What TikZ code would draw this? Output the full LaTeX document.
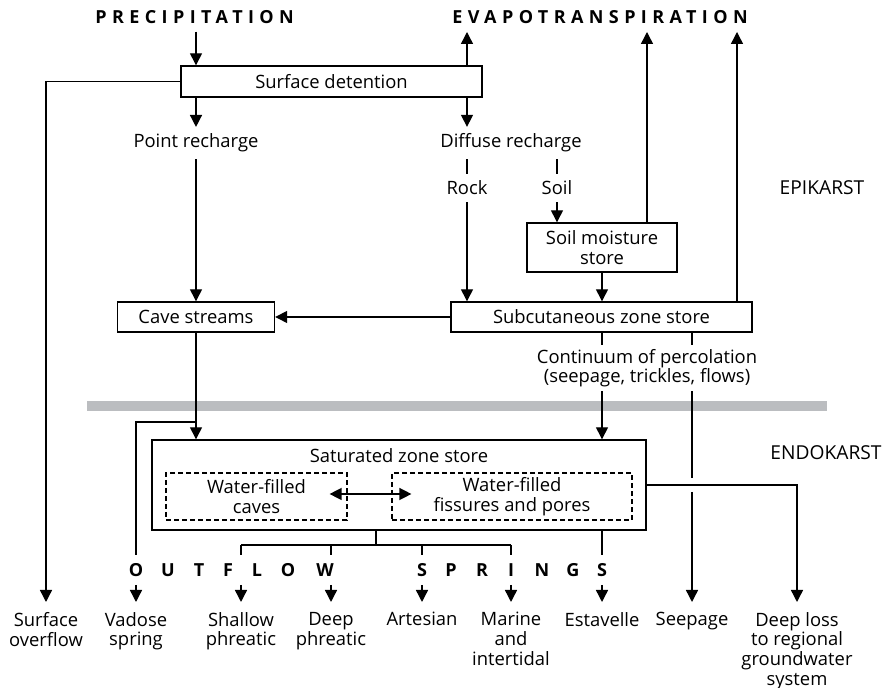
\documentclass[tikz,border=0pt]{standalone}
\usepackage{fontspec}
\setmainfont{Open Sans}
\usetikzlibrary{arrows.meta,positioning}
\definecolor{barGray}{RGB}{187,189,192}

\tikzset{
  flow/.style={-{Triangle[length=6pt,width=6pt]}, line width=0.7pt},
  link/.style={line width=0.7pt},
  store/.style={draw, line width=0.7pt, inner sep=0pt, align=center},
  subStore/.style={draw, dash pattern=on 2.5pt off 1.5pt, line width=0.6pt,
    minimum height=23.5pt, inner sep=0pt, align=center},
  heading/.style={font=\fontsize{9}{10}\selectfont\bfseries\addfontfeature{LetterSpace=30},
    inner sep=3.5pt, anchor=base west},
  outLetter/.style={font=\fontsize{9}{10}\selectfont\bfseries, inner sep=0pt, anchor=base},
  zone/.style={font=\fontsize{9.6}{11}\selectfont, anchor=base},
  outlet/.style={align=center, anchor=north, inner sep=5pt}
}

\begin{document}
\begin{tikzpicture}[x=0.5pt, y=-0.5pt, font=\fontsize{9.2}{9.8}\selectfont]
\useasboundingbox (0,0) rectangle (889,688);
\fill[barGray] (87,401) rectangle (827,411);

% headings and zones
\node[heading] (precip) at (88,24) {PRECIPITATION};
\node[heading] (evapo) at (445,24) {EVAPOTRANSPIRATION};
\node[zone] (epi) at (822,195) {EPIKARST};
\node[zone] (endo) at (826,460) {ENDOKARST};

% epikarst stores
\node[store, minimum width=150.5pt, minimum height=15.5pt] (surf) at (331.5,81.5) {Surface detention};
\node[anchor=base] (point) at (196,148) {Point recharge};
\node[anchor=base] (diffuse) at (511,148) {Diffuse recharge};
\node[anchor=base] (rock) at (467,195) {Rock};
\node[anchor=base] (soil) at (557,195) {Soil};
\node[store, minimum width=75pt, minimum height=24.5pt] (moist) at (602,247.5) {Soil moisture\\store};
\node[store, minimum width=78.5pt, minimum height=15pt] (cave) at (196,317) {Cave streams};
\node[store, minimum width=150.5pt, minimum height=15pt] (subc) at (601.5,317) {Subcutaneous zone store};
\node[align=center, inner sep=2pt] (perc) at (647,368) {Continuum of percolation\\(seepage, trickles, flows)};

% endokarst stores
\node[store, minimum width=247pt, minimum height=45pt] (sat) at (399,485) {};
\node[anchor=base] (satname) at (399,463) {Saturated zone store};
\node[subStore, minimum width=90.5pt] (caves) at (256.5,496.5) {Water-filled\\caves};
\node[subStore, minimum width=120pt] (fiss) at (512,496.5) {Water-filled\\fissures and pores};

% outflow row
\foreach \ch/\x in {O/136,U/168,T/199,F/228,L/257,O/288,W/325,S/422,P/451,R/482,I/511,N/542,G/573,S/602}
  \node[outLetter] (ch\x) at (\x,577) {\ch};
\node[outlet] (overflow) at (46,602) {Surface\\overflow};
\node[outlet] (vadose) at (136,602) {Vadose\\spring};
\node[outlet] (shallow) at (241,602) {Shallow\\phreatic};
\node[outlet] (deep) at (331,602) {Deep\\phreatic};
\node[outlet] (artesian) at (422,602) {Artesian};
\node[outlet] (marine) at (511,602) {Marine\\and\\intertidal};
\node[outlet] (estavelle) at (602,602) {Estavelle};
\node[outlet] (seepage) at (692,602) {Seepage};
\node[outlet] (deeploss) at (797,602) {Deep loss\\to regional\\groundwater\\system};

\coordinate (et0) at (467,32);
\coordinate (et1) at (647,32);
\coordinate (et2) at (737,32);
\coordinate (vj) at (196,422);
\coordinate (tj) at (376,545);
\coordinate (cross) at (692,485);
\coordinate (rowtop) at (0,555);
\coordinate (rowbot) at (0,585);

% recharge
\draw[flow] (precip.south -| point) -- (surf.north -| point);
\draw[flow] (surf.north -| et0) -- (et0);
\draw[flow] (surf.south -| point) -- (point.north);
\draw[flow] (surf.south -| rock) -- (diffuse.north -| rock);
\draw[link] (diffuse.south -| rock) -- (rock.north);
\draw[flow] (rock.south) -- (subc.north -| rock);
\draw[link] (diffuse.south -| soil) -- (soil.north);
\draw[flow] (soil.south) -- (moist.north -| soil);
\draw[flow] (moist.south) -- (subc.north -| moist);
\draw[flow] (moist.north -| et1) -- (et1);
\draw[flow] (subc.north -| et2) -- (et2);
\draw[flow] (point.south) -- (cave.north -| point);
\draw[flow] (subc.west) -- (cave.east);
\draw[flow] (surf.west) -| (overflow.north);

% percolation
\draw[link] (subc.south -| moist) -- (perc.north -| moist);
\draw[flow] (perc.south -| moist) -- (sat.north -| moist);
\draw[link] (subc.south -| seepage) -- (perc.north -| seepage);
\draw[link] (perc.south -| seepage) -- ([yshift=3.5pt]cross);
\draw[flow] ([yshift=-3.5pt]cross) -- (seepage.north);
\draw[flow] (cave.south) -- (sat.north -| cave);
\draw[{Triangle[length=6pt,width=6pt]}-{Triangle[length=6pt,width=6pt]}, link]
  ([xshift=-9pt,yshift=1.25pt]caves.east) -- ([xshift=10pt,yshift=1.25pt]fiss.west);

% outflows
\draw[link] (vj) -| (rowtop -| vadose);
\draw[flow] (rowbot -| vadose) -- (vadose.north);
\draw[flow] (sat.east) -| (deeploss.north);
\draw[link] (sat.south -| tj) -- (tj);
\draw[link] (tj -| shallow) -- (tj -| marine);
\foreach \o in {shallow,deep,artesian,marine} {
  \draw[link] (tj -| \o) -- (rowtop -| \o);
  \draw[flow] (rowbot -| \o) -- (\o.north);
}
\draw[link] (sat.south -| estavelle) -- (rowtop -| estavelle);
\draw[flow] (rowbot -| estavelle) -- (estavelle.north);
\end{tikzpicture}
\end{document}
